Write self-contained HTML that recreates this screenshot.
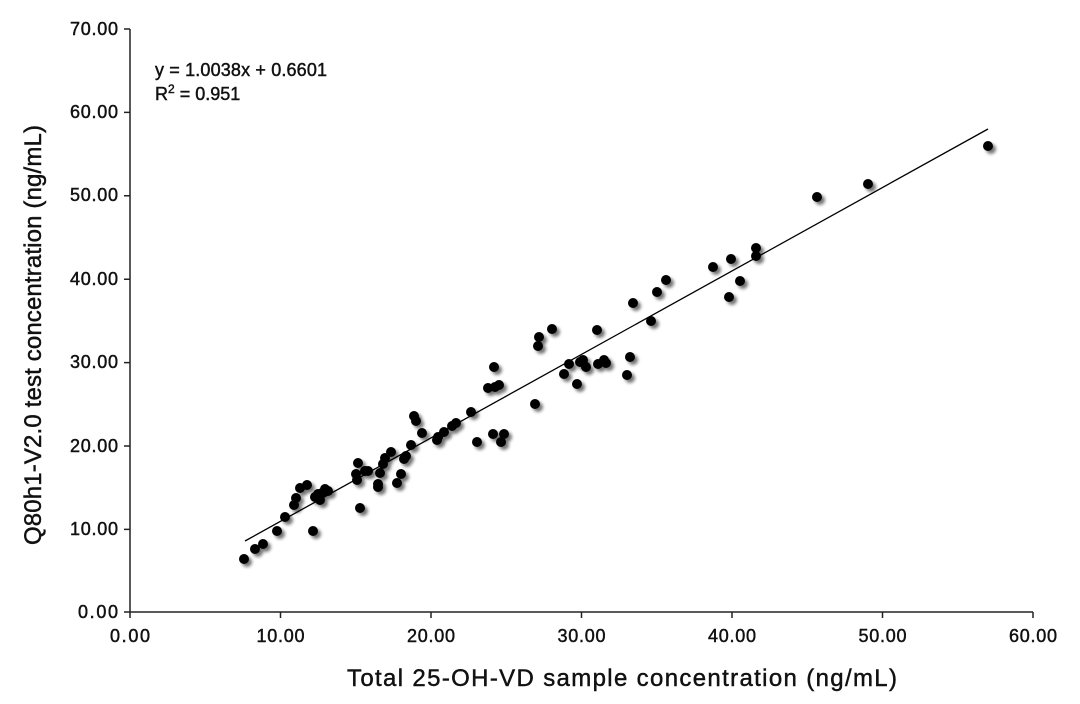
<!DOCTYPE html><html><head><meta charset="utf-8"><style>body{margin:0;background:#fff}svg{display:block}text{font-family:"Liberation Sans",sans-serif;fill:#111;stroke:#111;stroke-width:0.45}</style></head><body>
<svg width="1080" height="704" viewBox="0 0 1080 704">
<defs><filter id="sh" x="-50%" y="-50%" width="200%" height="200%"><feGaussianBlur in="SourceAlpha" stdDeviation="1.6"/><feOffset dx="3" dy="3"/><feComponentTransfer><feFuncA type="linear" slope="0.55"/></feComponentTransfer><feMerge><feMergeNode/><feMergeNode in="SourceGraphic"/></feMerge></filter></defs>
<g stroke="#222" stroke-width="1.5" fill="none">
<path d="M130,29V612H1033"/>
<path d="M124,29H130M124,112.4H130M124,195.8H130M124,279.2H130M124,362.6H130M124,446H130M124,529.4H130M124,612H130"/>
<path d="M130,612V618M280.5,612V618M431,612V618M581.5,612V618M732,612V618M882.5,612V618M1033,612V618"/>
</g>
<g font-size="18" text-anchor="end">
<text x="118" y="35" textLength="48">70.00</text><text x="118" y="118" textLength="48">60.00</text><text x="118" y="201" textLength="48">50.00</text><text x="118" y="285" textLength="48">40.00</text><text x="118" y="368" textLength="48">30.00</text><text x="118" y="452" textLength="48">20.00</text><text x="118" y="535" textLength="48">10.00</text><text x="118" y="618" textLength="40">0.00</text>
</g>
<g font-size="18" text-anchor="middle">
<text x="130" y="642" textLength="40">0.00</text><text x="280.5" y="642" textLength="48">10.00</text><text x="431" y="642" textLength="48">20.00</text><text x="581.5" y="642" textLength="48">30.00</text><text x="732" y="642" textLength="48">40.00</text><text x="882.5" y="642" textLength="48">50.00</text><text x="1033" y="642" textLength="48">60.00</text>
</g>
<text x="347" y="686" font-size="24" textLength="550">Total 25-OH-VD  sample concentration (ng/mL)</text>
<text transform="translate(41,335) rotate(-90)" font-size="24" text-anchor="middle" textLength="420">Q80h1-V2.0 test concentration (ng/mL)</text>
<text x="155" y="76" font-size="18" textLength="172">y = 1.0038x + 0.6601</text>
<text x="155" y="100" font-size="18">R<tspan font-size="12" dy="-7">2</tspan><tspan dy="7"> = 0.951</tspan></text>
<line x1="245" y1="541" x2="988" y2="129" stroke="#000" stroke-width="1.3"/>
<g fill="#000" filter="url(#sh)">
<circle cx="244" cy="559" r="5"/><circle cx="255" cy="549" r="5"/><circle cx="263" cy="544" r="5"/><circle cx="277" cy="531" r="5"/><circle cx="285" cy="517" r="5"/><circle cx="294" cy="505" r="5"/><circle cx="296" cy="498" r="5"/><circle cx="300" cy="488" r="5"/><circle cx="307" cy="485" r="5"/><circle cx="313" cy="531" r="5"/><circle cx="315" cy="497" r="5"/><circle cx="318" cy="494" r="5"/><circle cx="322" cy="493" r="5"/><circle cx="325" cy="489" r="5"/><circle cx="328" cy="491" r="5"/><circle cx="320" cy="500" r="5"/><circle cx="357" cy="480" r="5"/><circle cx="356" cy="474" r="5"/><circle cx="358" cy="463" r="5"/><circle cx="360" cy="508" r="5"/><circle cx="365" cy="471" r="5"/><circle cx="368" cy="471" r="5"/><circle cx="378" cy="484" r="5"/><circle cx="380" cy="473" r="5"/><circle cx="378" cy="487" r="5"/><circle cx="383" cy="464" r="5"/><circle cx="385" cy="458" r="5"/><circle cx="391" cy="452" r="5"/><circle cx="397" cy="483" r="5"/><circle cx="401" cy="474" r="5"/><circle cx="404" cy="459" r="5"/><circle cx="406" cy="456" r="5"/><circle cx="411" cy="445" r="5"/><circle cx="414" cy="416" r="5"/><circle cx="416" cy="421" r="5"/><circle cx="422" cy="433" r="5"/><circle cx="437" cy="440" r="5"/><circle cx="438" cy="437" r="5"/><circle cx="444" cy="432" r="5"/><circle cx="452" cy="426" r="5"/><circle cx="456" cy="423" r="5"/><circle cx="471" cy="412" r="5"/><circle cx="477" cy="442" r="5"/><circle cx="488" cy="388" r="5"/><circle cx="493" cy="434" r="5"/><circle cx="494" cy="367" r="5"/><circle cx="495" cy="387" r="5"/><circle cx="499" cy="385" r="5"/><circle cx="501" cy="442" r="5"/><circle cx="504" cy="434" r="5"/><circle cx="535" cy="404" r="5"/><circle cx="538" cy="346" r="5"/><circle cx="539" cy="337" r="5"/><circle cx="552" cy="329" r="5"/><circle cx="564" cy="374" r="5"/><circle cx="569" cy="364" r="5"/><circle cx="577" cy="384" r="5"/><circle cx="580" cy="362" r="5"/><circle cx="583" cy="360" r="5"/><circle cx="586" cy="367" r="5"/><circle cx="597" cy="330" r="5"/><circle cx="598" cy="364" r="5"/><circle cx="604" cy="360" r="5"/><circle cx="606" cy="363" r="5"/><circle cx="627" cy="375" r="5"/><circle cx="630" cy="357" r="5"/><circle cx="633" cy="303" r="5"/><circle cx="651" cy="321" r="5"/><circle cx="657" cy="292" r="5"/><circle cx="666" cy="280" r="5"/><circle cx="713" cy="267" r="5"/><circle cx="729" cy="297" r="5"/><circle cx="731" cy="259" r="5"/><circle cx="740" cy="281" r="5"/><circle cx="756" cy="256" r="5"/><circle cx="756" cy="248" r="5"/><circle cx="817" cy="197" r="5"/><circle cx="868" cy="184" r="5"/><circle cx="988" cy="146" r="5"/>
</g>
</svg></body></html>
